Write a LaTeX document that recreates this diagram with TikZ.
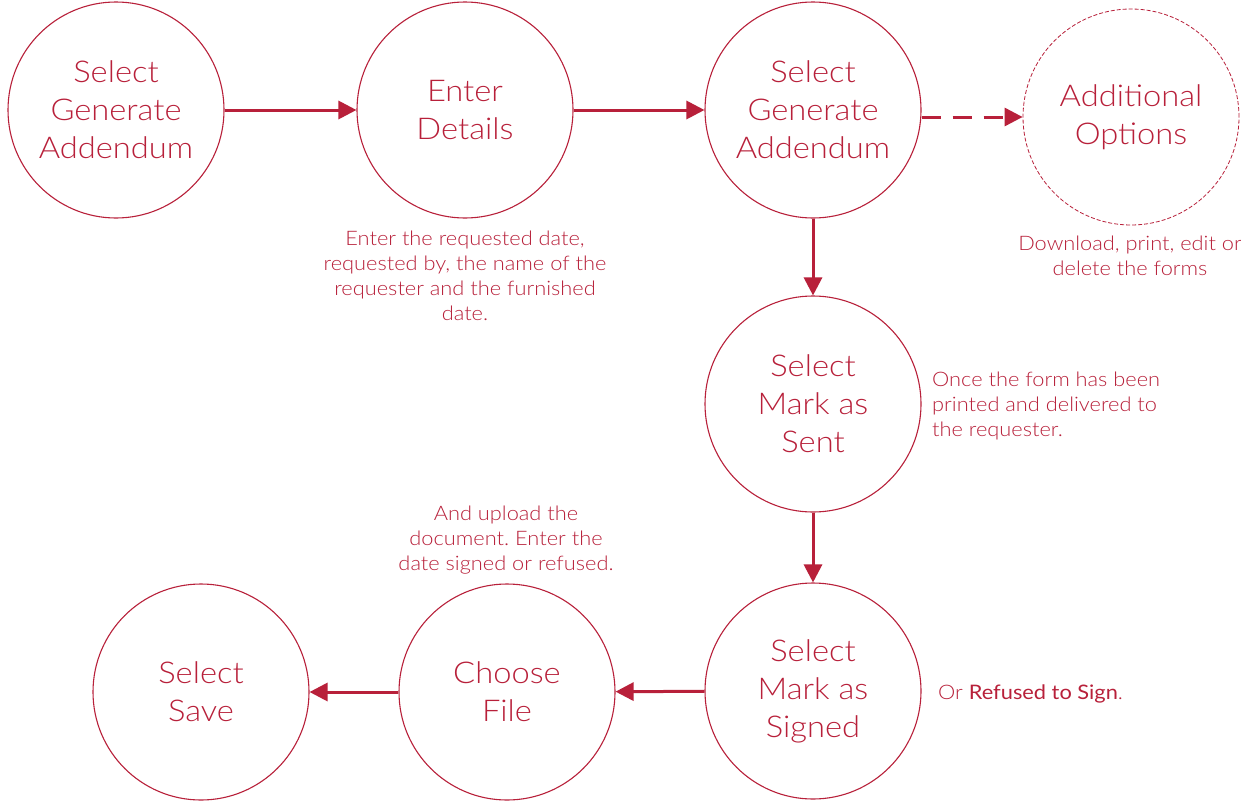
\documentclass[tikz,border=0pt]{standalone}
\usepackage{fontspec}
\setmainfont{Lato}[UprightFont={* Light},FakeStretch=1.09]
\newfontfamily\regfont{Lato}[FakeStretch=1.09]
\usetikzlibrary{arrows.meta}
\definecolor{crim}{RGB}{184,32,58}
\frenchspacing
\tikzset{
  circ/.style={circle,draw=crim,line width=1.1pt,minimum size=216pt,inner sep=0pt,
    text=crim,align=center,font=\fontsize{30}{38}\selectfont},
  dcirc/.style={circ,dash pattern=on 4pt off 2pt,line width=0.8pt},
  flow/.style={draw=crim,line width=3pt,-{Triangle[length=18pt,width=18pt]}},
  dflow/.style={flow,dash pattern=on 19pt off 12pt},
  note/.style={text=crim,inner sep=0pt,font=\fontsize{20}{25}\selectfont}
}
\begin{document}
\begin{tikzpicture}[x=1pt,y=-1pt]
\useasboundingbox[fill=white] (0,0) rectangle (1241,803);
\node[circ] (c1) at (116,110) {Select\\Generate\\Addendum};
\node[circ] (c2) at (465,110) {Enter\\Details};
\node[circ] (c3) at (813,110) {Select\\Generate\\Addendum};
\node[dcirc] (c4) at (1131,117) {Additional\\Options};
\node[circ] (c5) at (813,404) {Select\\Mark as\\Sent};
\node[circ] (c6) at (813,691) {Select\\Mark as\\Signed};
\node[circ] (c7) at (507,692) {Choose\\File};
\node[circ] (c8) at (201,692) {Select\\Save};

\node[note,align=center] (n1) at (465,276) {Enter the requested date,\\requested by, the name of the\\requester and the furnished\\date.};
\node[note,align=center] (n2) at (1130,256) {Download, print, edit or\\delete the forms};
\node[note,align=left,anchor=west] (n3) at (932,406) {Once the form has been\\printed and delivered to\\the requester.};
\node[note,align=center] (n4) at (506,540) {And upload the\\document. Enter the\\date signed or refused.};
\node[note,anchor=base west] (n5) at (938,699) {Or {\regfont Refused to Sign}.};

\draw[flow] (c1) -- (c2);
\draw[flow] (c2) -- (c3);
\draw[dflow] (c3.east |- c4.west) -- (c4.west);
\draw[flow] (c3) -- (c5);
\draw[flow] (c5) -- (c6);
\draw[flow] (c6) -- (c7);
\draw[flow] (c7) -- (c8);
\end{tikzpicture}
\end{document}
